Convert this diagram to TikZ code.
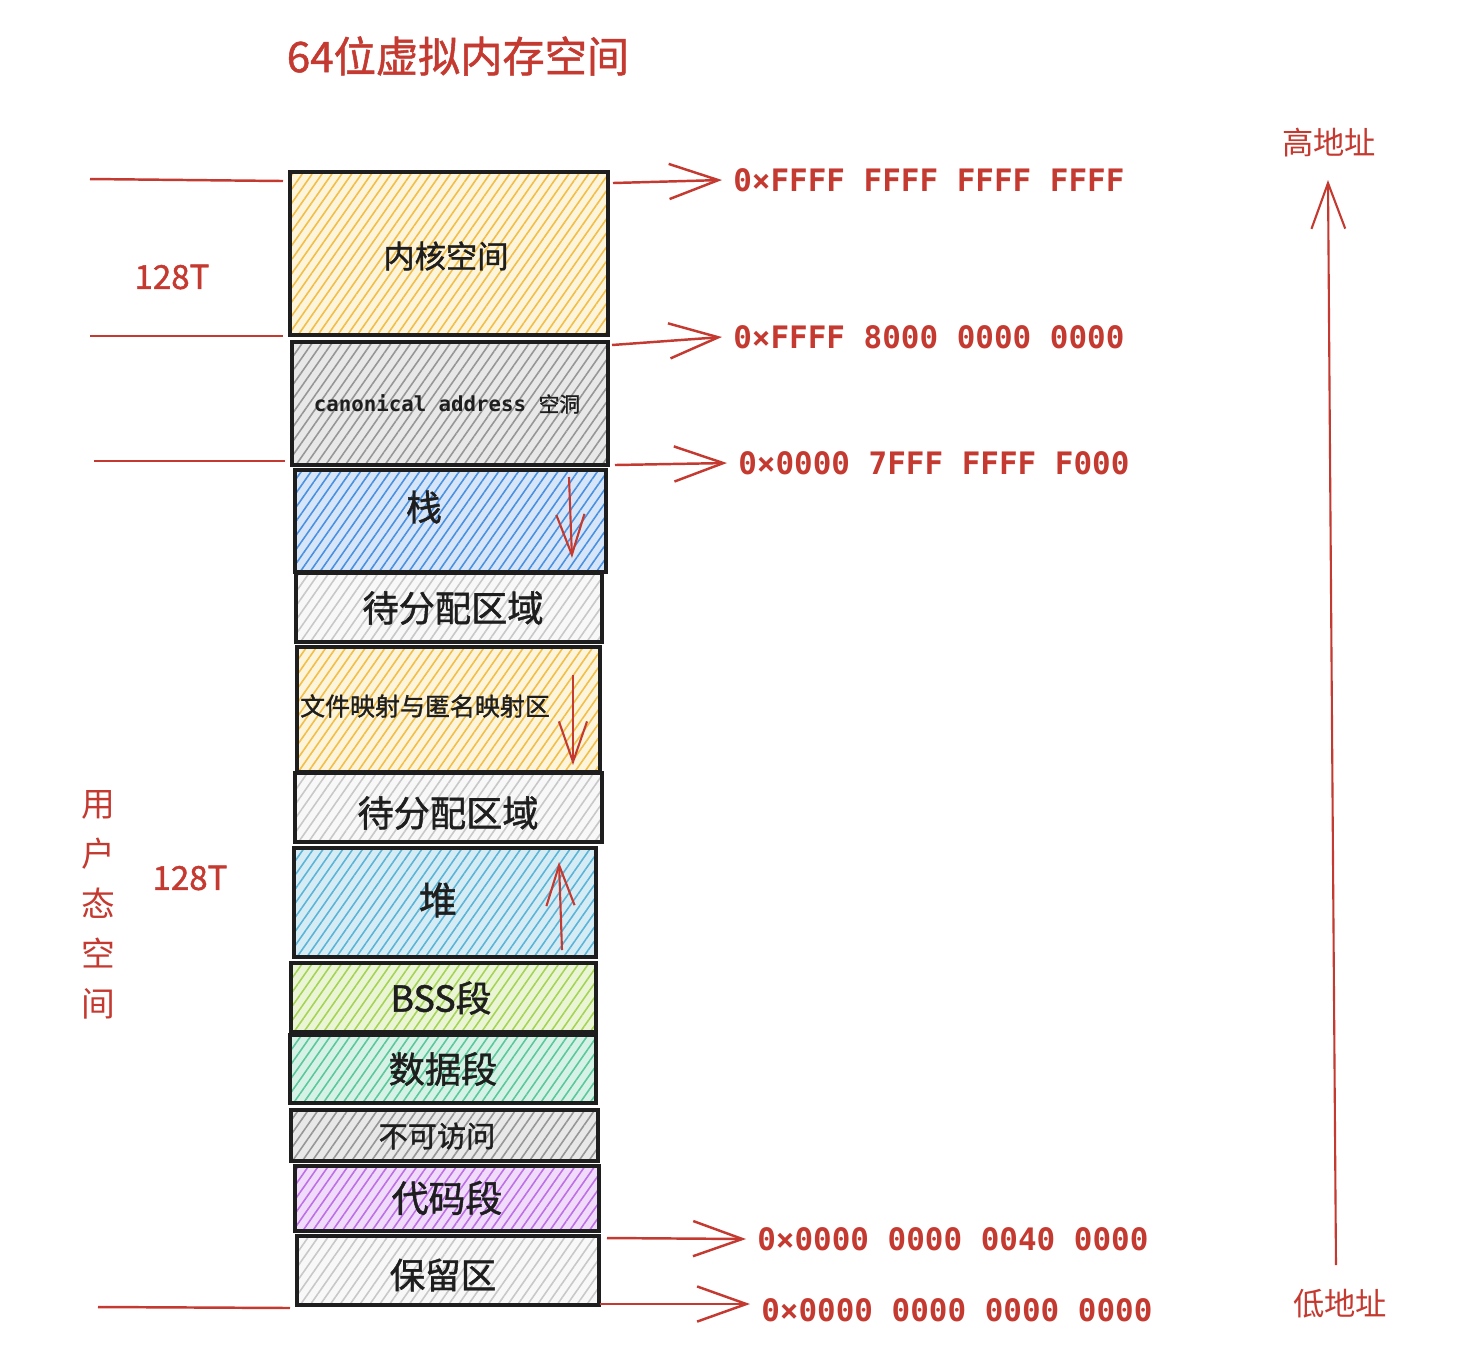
\documentclass[tikz,border=0pt]{standalone}
\usepackage{fontspec}
\newfontfamily\cjk{Noto Sans CJK SC}
\newfontfamily\cjkm{Noto Sans CJK SC}[FakeBold=1.2]
\newfontfamily\mono{DejaVu Sans Mono}
\usetikzlibrary{patterns.meta,arrows.meta}
\definecolor{rd}{RGB}{196,58,48}
\definecolor{ink}{RGB}{30,30,30}
\definecolor{yelH}{RGB}{242,190,70}\definecolor{yelB}{RGB}{253,244,220}
\definecolor{gryH}{RGB}{150,150,150}\definecolor{gryB}{RGB}{232,232,232}
\definecolor{lgtH}{RGB}{200,200,200}\definecolor{lgtB}{RGB}{248,248,248}
\definecolor{bluH}{RGB}{74,144,226}\definecolor{bluB}{RGB}{214,230,248}
\definecolor{cyaH}{RGB}{90,180,215}\definecolor{cyaB}{RGB}{214,236,245}
\definecolor{limH}{RGB}{165,212,85}\definecolor{limB}{RGB}{234,245,214}
\definecolor{teaH}{RGB}{90,200,155}\definecolor{teaB}{RGB}{214,242,230}
\definecolor{purH}{RGB}{190,110,230}\definecolor{purB}{RGB}{240,220,250}
\tikzset{
  hatch/.style 2 args={preaction={fill=#2}, pattern={Lines[angle=55,distance=2.3pt,line width=0.45pt]}, pattern color=#1},
  membox/.style={draw=ink, line width=1.1pt, inner sep=0pt, outer sep=0pt},
  boxtext/.style={inner sep=0pt, text=ink, font={\cjkm\fontsize{#1}{#1}\selectfont}},
  addrtext/.style={anchor=west, inner xsep=3pt, inner ysep=0pt, text=rd, font={\mono\bfseries\fontsize{8.8pt}{10pt}\selectfont}},
  redtext/.style={inner sep=0pt, text=rd, font={\cjk\fontsize{#1}{#1}\selectfont}},
  redmed/.style={inner sep=0pt, text=rd, font={\cjkm\fontsize{#1}{#1}\selectfont}},
  addrarrow/.style={draw=rd, line width=0.7pt, -{Straight Barb[length=14pt,width=10pt,line width=0.7pt]}},
  growarrow/.style={draw=rd, line width=0.6pt, -{Straight Barb[length=11.5pt,width=8pt,line width=0.6pt]}},
  sideline/.style={draw=rd, line width=0.7pt},
}
\begin{document}
\begin{tikzpicture}[x=0.01cm,y=-0.01cm]
\useasboundingbox (0,0) rectangle (1465,1353);
\fill[white] (0,0) rectangle (1465,1353);

% title
\node[redmed=12pt] (title) at (458,56) {64位虚拟内存空间};

% boxes
\node[membox, hatch={yelH}{yelB}, minimum width=3.18cm, minimum height=1.63cm] (kern) at (449,253.5) {};
\node[membox, hatch={gryH}{gryB}, minimum width=3.16cm, minimum height=1.23cm] (hole) at (450,403.5) {};
\node[membox, hatch={bluH}{bluB}, minimum width=3.11cm, minimum height=1.02cm] (stack) at (450.5,521) {};
\node[membox, hatch={lgtH}{lgtB}, minimum width=3.06cm, minimum height=0.69cm] (free1) at (449,607.5) {};
\node[membox, hatch={yelH}{yelB}, minimum width=3.03cm, minimum height=1.25cm] (mmap) at (448.5,709.5) {};
\node[membox, hatch={lgtH}{lgtB}, minimum width=3.07cm, minimum height=0.69cm] (free2) at (448.5,807.5) {};
\node[membox, hatch={cyaH}{cyaB}, minimum width=3.02cm, minimum height=1.09cm] (heap) at (445,902.5) {};
\node[membox, hatch={limH}{limB}, minimum width=3.05cm, minimum height=0.69cm] (bss) at (443.5,997.5) {};
\node[membox, hatch={teaH}{teaB}, minimum width=3.06cm, minimum height=0.68cm] (data) at (443,1069) {};
\node[membox, hatch={gryH}{gryB}, minimum width=3.07cm, minimum height=0.51cm] (noacc) at (444.5,1135.5) {};
\node[membox, hatch={purH}{purB}, minimum width=3.04cm, minimum height=0.65cm] (code) at (447,1198.5) {};
\node[membox, hatch={lgtH}{lgtB}, minimum width=3.02cm, minimum height=0.69cm] (resv) at (448,1270.5) {};

% box texts
\node[boxtext=8.9pt] (tkern) at (446,256) {内核空间};
\node[boxtext=5.9pt] (thole) at (447,404) {{\mono\bfseries canonical address }空洞};
\node[boxtext=10.2pt] (tstack) at (424,507) {栈};
\node[boxtext=10.3pt] (tfree1) at (453,608) {待分配区域};
\node[boxtext=7.1pt] (tmmap) at (425,706) {文件映射与匿名映射区};
\node[boxtext=10.3pt] (tfree2) at (448,813) {待分配区域};
\node[boxtext=10.8pt] (theap) at (438,900) {堆};
\node[boxtext=10.2pt] (tbss) at (441,998) {BSS段};
\node[boxtext=10.3pt] (tdata) at (443,1069) {数据段};
\node[boxtext=8.3pt] (tnoacc) at (437,1136) {不可访问};
\node[boxtext=10.5pt] (tcode) at (447,1198) {代码段};
\node[boxtext=10.1pt] (tresv) at (443,1275) {保留区};

% growth arrows
\draw[growarrow] (569,477) -- (572,558);
\draw[growarrow] (573,675) -- (573,765);
\draw[growarrow] (562,950) -- (559,862);

% address labels
\node[addrtext] (a1) at (722,180) {0×FFFF FFFF FFFF FFFF};
\node[addrtext] (a2) at (722,337) {0×FFFF 8000 0000 0000};
\node[addrtext] (a3) at (727,463) {0×0000 7FFF FFFF F000};
\node[addrtext] (a4) at (746,1239) {0×0000 0000 0040 0000};
\node[addrtext] (a5) at (750,1310) {0×0000 0000 0000 0000};

\coordinate (s1) at (613,183);
\coordinate (s2) at (612,345);
\coordinate (s3) at (615,465);
\coordinate (s4) at (607,1238);
\coordinate (s5) at (600,1304);
\draw[addrarrow] (s1) -- (a1.west);
\draw[addrarrow] (s2) -- (a2.west);
\draw[addrarrow] (s3) -- (a3.west);
\draw[addrarrow] (s4) -- (a4.west);
\draw[addrarrow] (s5) -- (a5.west |- s5);

% left boundary lines
\draw[sideline] (90,179) -- (283,181);
\draw[sideline] (90,336) -- (283,336);
\draw[sideline] (94,461) -- (285,461);
\draw[sideline] (98,1307) -- (290,1308);

% left labels
\node[redmed=9.4pt] (k128) at (172,277) {128T};
\node[redmed=9.4pt] (u128) at (190,878) {128T};
\node[redtext=9.6pt, align=center, font={\cjk\fontsize{9.6pt}{14.2pt}\selectfont}] (user) at (98,905) {用\\户\\态\\空\\间};

% right address direction
\node[redtext=8.9pt] (hi) at (1329,143) {高地址};
\node[redtext=8.9pt] (lo) at (1340,1304) {低地址};
\coordinate (vlow) at (1336,1265);
\coordinate (vhigh) at (1328,180);
\draw[draw=rd, line width=0.6pt, -{Straight Barb[length=13pt,width=9.6pt,line width=0.6pt]}] (vlow) -- (vhigh);
\end{tikzpicture}
\end{document}
